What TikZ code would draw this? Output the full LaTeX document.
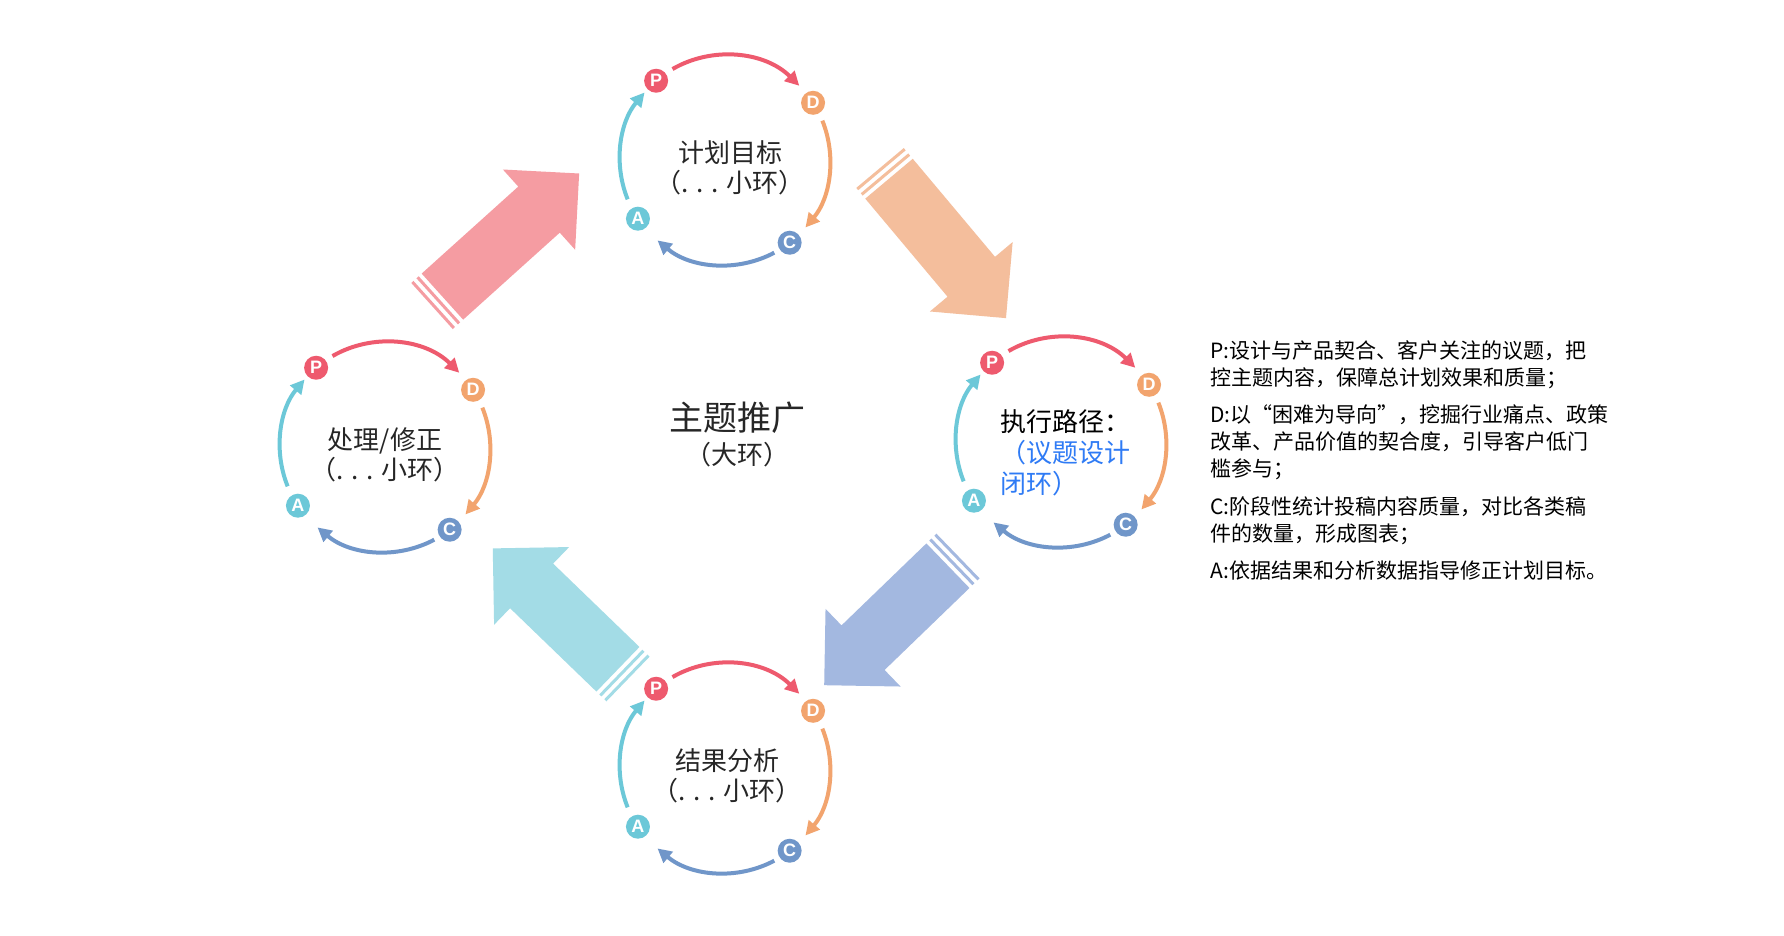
\documentclass[tikz,border=0pt]{standalone}
\usepackage{fontspec}
\setmainfont{Noto Sans CJK SC}
\setsansfont{Liberation Sans}
\usetikzlibrary{calc,arrows.meta}
\definecolor{cR}{HTML}{EE5A6E}\definecolor{cO}{HTML}{F2A46E}
\definecolor{cB}{HTML}{7096C9}\definecolor{cC}{HTML}{6CC8D8}
\definecolor{aR}{HTML}{F59CA2}\definecolor{aO}{HTML}{F4BE9C}
\definecolor{aB}{HTML}{A3B8E0}\definecolor{aC}{HTML}{A3DCE6}
\definecolor{tblue}{HTML}{2F7BF5}
\tikzset{
 arcline/.style={line width=2pt,-{Triangle[length=7pt,width=7pt]}},
 badge/.style={circle,fill=#1,minimum size=12pt,inner sep=0pt,text=white,font=\sffamily\bfseries\small},
 cyctext/.style={font=\fontsize{13}{15}\selectfont,text=black!85,align=center},
 desc/.style={anchor=north west,font=\fontsize{10.5}{13.5}\selectfont,align=left,inner sep=0pt}
}
\newcommand\cyc[2]{%
 \draw[arcline,cR] ($(#1)+(120:105)$) arc (120:45:105);
 \draw[arcline,cO] ($(#1)+(22:105)$) arc (22:-40:105);
 \draw[arcline,cB] ($(#1)+(-62:105)$) arc (-62:-130:105);
 \draw[arcline,cC] ($(#1)+(-158:105)$) arc (-158:-220:105);
 \node[badge=cR] (#2P) at ($(#1)+(131:105)$) {P};
 \node[badge=cO] (#2D) at ($(#1)+(33:105)$) {D};
 \node[badge=cB] (#2C) at ($(#1)+(-52:105)$) {C};
 \node[badge=cC] (#2A) at ($(#1)+(-146:105)$) {A};
}
\newcommand\fatarr[5]{%
 \begin{scope}[shift={(#1,#2)},rotate=#3]
 \fill[#5] (0,-31) rectangle (3,31);
 \fill[#5] (7,-31) rectangle (10,31);
 \fill[#5] (14,-31) -- ({#4-54},-31) -- ({#4-54},-54) -- (#4,0) -- ({#4-54},54) -- ({#4-54},31) -- (14,31) -- cycle;
 \end{scope}}
\begin{document}
\begin{tikzpicture}[x=0.5pt,y=0.5pt]
\useasboundingbox[fill=white] (0,0) rectangle (1784,936);
\coordinate (ct) at (725,776);
\coordinate (cl) at (385,489);
\coordinate (cr) at (1061,494);
\coordinate (cb) at (725,168);
\fatarr{432}{630}{42}{198}{aR}
\fatarr{880}{768}{-50}{196}{aO}
\fatarr{958}{380}{-136}{186}{aB}
\fatarr{628}{257}{136}{188}{aC}
\cyc{ct}{t}
\cyc{cl}{l}
\cyc{cr}{r}
\cyc{cb}{b}
\node[cyctext] (tt) at ($(ct)+(5,-8)$) {计划目标\\（. . . 小环）};
\node[cyctext] (lt) at ($(cl)+(0,-8)$) {处理/修正\\（. . . 小环）};
\node[cyctext] (bt) at ($(cb)+(2,-8)$) {结果分析\\（. . . 小环）};
\node[anchor=west,font=\fontsize{13}{15.5}\selectfont,align=left,inner sep=0pt] (rt) at (1000,483)
 {执行路径：\\\textcolor{tblue}{（议题设计}\\\textcolor{tblue}{闭环）}};
\node[font=\fontsize{17}{20}\selectfont,text=black!85] (main) at (737,518) {主题推广};
\node[font=\fontsize{13}{15}\selectfont,text=black!85] (sub) at (737,481) {（大环）};
\node[desc] (dP) at (1210,596) {P:设计与产品契合、客户关注的议题，把\\控主题内容，保障总计划效果和质量；};
\node[desc] (dD) at (1210,532) {D:以“困难为导向”，挖掘行业痛点、政策\\改革、产品价值的契合度，引导客户低门\\槛参与；};
\node[desc] (dC) at (1210,440) {C:阶段性统计投稿内容质量，对比各类稿\\件的数量，形成图表；};
\node[desc] (dA) at (1210,376) {A:依据结果和分析数据指导修正计划目标。};
\end{tikzpicture}
\end{document}
